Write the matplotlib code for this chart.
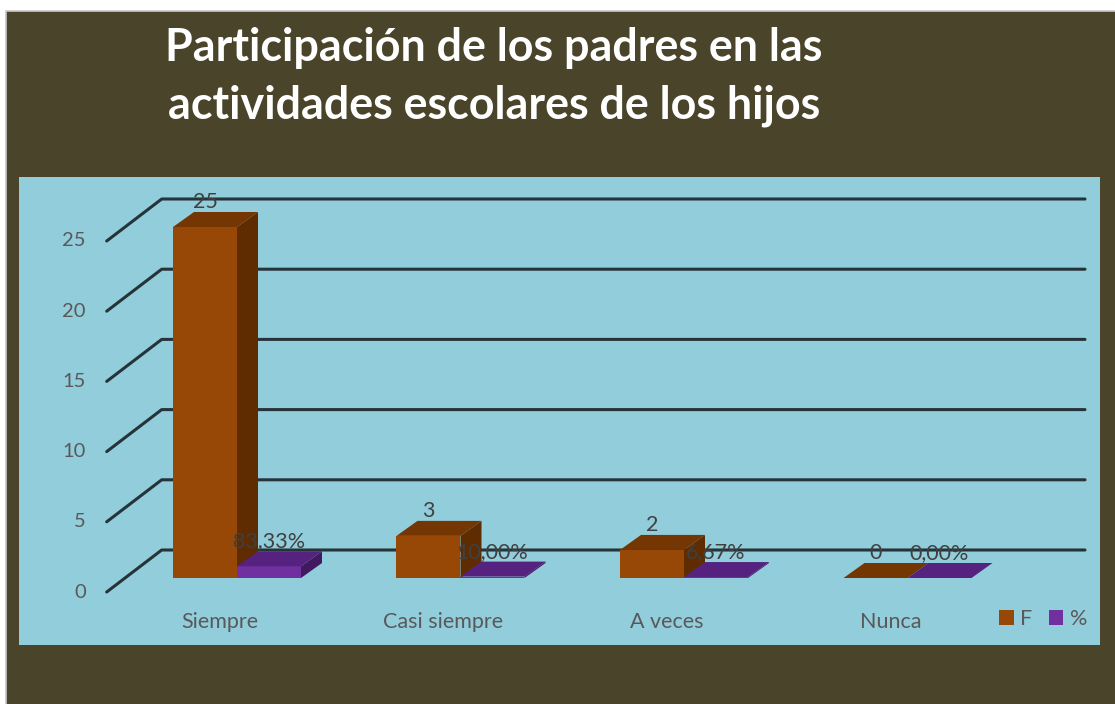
import matplotlib
matplotlib.use('Agg')
import matplotlib.pyplot as plt
from matplotlib.patches import Polygon, Rectangle, Patch

categories = ['Siempre', 'Casi siempre', 'A veces', 'Nunca']
freq = [25, 3, 2, 0]
pct = [83.33, 10.00, 6.67, 0.00]
series_names = ['F', '%']
yticks = [0, 5, 10, 15, 20, 25]
title_lines = ['Participación de los padres en las', 'actividades escolares de los hijos']

FONT = 'Lato'
W, H = 1115, 704
fig = plt.figure(figsize=(W / 100, H / 100), dpi=100, facecolor='white')
fig.add_artist(Rectangle((6 / W, -0.01), 1.01 - 6 / W, 1.01 - 11 / H, transform=fig.transFigure,
                         facecolor='#4A452A', edgecolor='#c8c8c8', lw=1.2, zorder=-5))

# plot area (pixels: x 19..1100, y 177..645)
ax = fig.add_axes([19 / W, (H - 645) / H, (1100 - 19) / W, (645 - 177) / H])
ax.set_facecolor('#92CDDC')
for s in ax.spines.values():
    s.set_visible(False)
ax.set_xticks([])
ax.set_yticks([])

PX_X = 223.5   # pixels per category
PX_Y = 14.04   # pixels per value unit
ax.set_xlim(-(237 - 19) / PX_X, (1100 - 237) / PX_X)
ax.set_ylim(-(645 - 578) / PX_Y, (578 - 177) / PX_Y)


def dx(p):
    return p / PX_X


def dy(p):
    return p / PX_Y


# wall / gridlines
wall_x = (125 - 237) / PX_X
right_x = (1085 - 237) / PX_X
for v in yticks:
    xs = [wall_x - dx(18.3), wall_x + dx(36.7), right_x]
    ys = [v - dy(14), v + dy(28), v + dy(28)]
    ax.plot(xs, ys, color='#26343a', lw=2.2, solid_capstyle='round', zorder=1)
    ax.text(wall_x - dx(18.3) - dx(21), v - dy(14), str(v), ha='right', va='center',
            fontsize=14.5, color='#595959', family=FONT)

bw = 64 / PX_X
ddx, ddy = dx(21), dy(15)


def box(x, h, front, side, top, z):
    ax.bar(x, h, width=bw, align='edge', bottom=0, color=front, zorder=z, linewidth=0)
    ax.add_patch(Polygon([(x + bw, 0), (x + bw + ddx, ddy), (x + bw + ddx, h + ddy), (x + bw, h)],
                         closed=True, facecolor=side, edgecolor='none', zorder=z))
    ax.add_patch(Polygon([(x, h), (x + ddx, h + ddy), (x + bw + ddx, h + ddy), (x + bw, h)],
                         closed=True, facecolor=top, edgecolor='none', zorder=z))


for i, (f, p) in enumerate(zip(freq, pct)):
    box(i - bw, f, '#974706', '#5f2c02', '#743703', 3 + i)
    box(i, p / 100, '#7030A0', '#40195f', '#55237f', 3.5 + i)
    ax.annotate(str(f), xy=(i - bw / 2, f + ddy), xytext=(0, 10), textcoords='offset pixels',
                ha='center', va='center', fontsize=15.5, color='#404040', family=FONT, zorder=10)
    ax.annotate(f'{p:.2f}%'.replace('.', ','), xy=(i + bw / 2, p / 100 + ddy), xytext=(0, 10),
                textcoords='offset pixels', ha='center', va='center', fontsize=15.5,
                color='#404040', family=FONT, zorder=10)
    ax.text(i - dx(17), dy(578 - 622), categories[i], ha='center', va='center',
            fontsize=15.5, color='#595959', family=FONT)

handles = [Patch(facecolor='#974706', label=series_names[0]),
           Patch(facecolor='#7030A0', label=series_names[1])]
leg = ax.legend(handles=handles, loc='center', ncol=2, frameon=False,
                bbox_to_anchor=(1043 / W, (H - 619) / H), bbox_transform=fig.transFigure,
                handlelength=0.68, handleheight=0.68, handletextpad=0.3, columnspacing=0.75,
                borderpad=0.1, prop={'family': FONT, 'size': 15.5})
for t in leg.get_texts():
    t.set_color('#595959')

fig.text(494 / W, 1 - 48 / H, title_lines[0], ha='center', va='center', fontsize=32.3,
         weight='bold', color='white', family=FONT)
fig.text(494 / W, 1 - 106 / H, title_lines[1], ha='center', va='center', fontsize=32.3,
         weight='bold', color='white', family=FONT)

fig.savefig('out.png', dpi=100, facecolor=fig.get_facecolor())
